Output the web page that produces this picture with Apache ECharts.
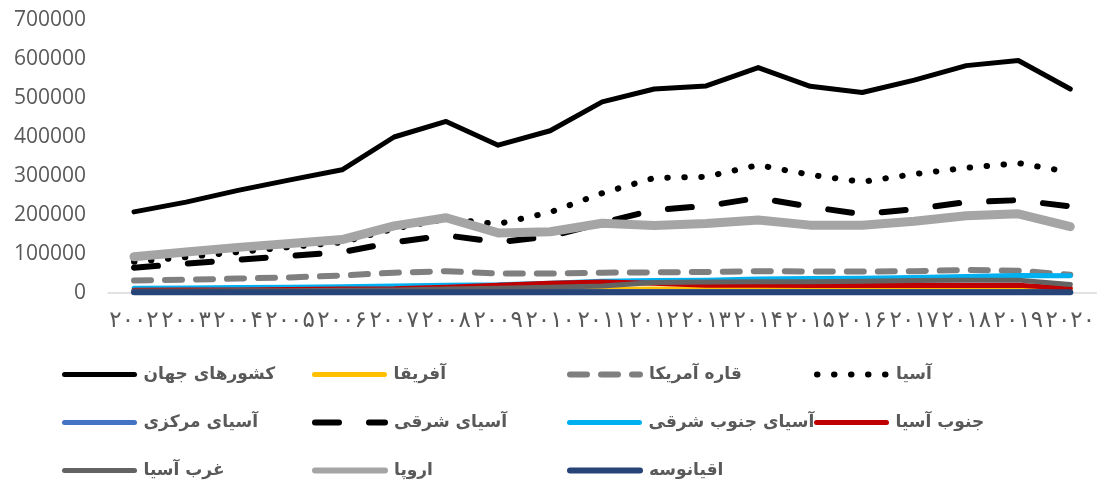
<!DOCTYPE html>
<html>
<head>
<meta charset="utf-8">
<script src="https://cdn.jsdelivr.net/npm/echarts@6/dist/echarts.min.js"></script>
<style>
  html, body { margin: 0; padding: 0; background: #fff; }
  #chart { width: 1098px; height: 490px; }
</style>
</head>
<body>
<div id="chart"></div>
<script>
// سال‌ها (برچسب محور افقی)
const years = ['۲۰۰۲', '۲۰۰۳', '۲۰۰۴', '۲۰۰۵', '۲۰۰۶', '۲۰۰۷', '۲۰۰۸', '۲۰۰۹', '۲۰۱۰', '۲۰۱۱',
    '۲۰۱۲', '۲۰۱۳', '۲۰۱۴', '۲۰۱۵', '۲۰۱۶', '۲۰۱۷', '۲۰۱۸', '۲۰۱۹', '۲۰۲۰']

const world = [208000, 233000, 263000, 290000, 316000, 400000, 440000, 379000, 416000, 490000,
    523000, 531000, 578000, 530000, 514000, 546000, 583000, 596000, 523000]
const africa = [5000, 5000, 6000, 6000, 7000, 7000, 8000, 8000, 9000, 9000,
    10000, 10000, 10000, 10000, 10000, 11000, 11000, 11000, 9000]
const americas = [32000, 34000, 37000, 40000, 45000, 52000, 56000, 50000, 50000, 52000,
    53000, 54000, 56000, 55000, 55000, 56000, 59000, 57000, 47000]
const asia = [80000, 92000, 105000, 118000, 130000, 165000, 190000, 177000, 207000, 256000,
    295000, 298000, 328000, 303000, 285000, 305000, 321000, 333000, 310000]
const centralAsia = [2000, 2000, 2000, 2000, 2000, 3000, 3000, 3000, 3000, 3000,
    3000, 3000, 3000, 3000, 3000, 3000, 3000, 3000, 3000]
const eastAsia = [65000, 75000, 85000, 95000, 105000, 130000, 148000, 130000, 145000, 180000,
    213000, 223000, 244000, 221000, 202000, 215000, 233000, 238000, 222000]
const southEastAsia = [12000, 13000, 14000, 15000, 16000, 18000, 20000, 21000, 25000, 30000,
    32000, 33000, 36000, 37000, 38000, 40000, 42000, 45000, 44000]
const southAsia = [7000, 7500, 8000, 9000, 10000, 11000, 15000, 20000, 25000, 28000,
    25000, 20000, 20000, 19000, 19000, 19000, 19000, 20000, 12000]
const westAsia = [5000, 5000, 6000, 6000, 7000, 8000, 10000, 12000, 15000, 18000,
    27000, 28000, 29000, 29000, 30000, 32000, 33000, 33000, 22000]
const europe = [93000, 105000, 117000, 127000, 137000, 172000, 193000, 154000, 157000, 179000,
    173000, 178000, 187000, 174000, 174000, 184000, 198000, 203000, 170000]
const oceania = [2000, 2000, 2000, 2000, 2000, 2000, 2000, 2000, 2000, 2000,
    2000, 2000, 2000, 2000, 2000, 2000, 2000, 2000, 2000]

const yTicks = { min: 0, max: 700000, step: 100000 }

// جای هر آیتم راهنما: ستون و ردیف
const legendCols = [62, 312, 567, 814]
const legendRows = [377, 425, 473]

function line(name, data, color, width, dash) {
    return {
        name: name,
        type: 'line',
        data: data,
        symbol: 'none',
        showSymbol: false,
        lineStyle: {
            color: color,
            width: width,
            type: dash || 'solid',
            cap: 'round',
            join: 'round'
        },
        itemStyle: { color: color },
        emphasis: { disabled: true }
    }
}

const seriesList = [
    line('کشورهای جهان', world, '#000000', 5),
    line('آفریقا', africa, '#FFC000', 5),
    line('قاره آمریکا', americas, '#7F7F7F', 6, [17, 14]),
    line('آسیا', asia, '#000000', 6, [0.5, 16.5]),
    line('آسیای مرکزی', centralAsia, '#4472C4', 5),
    line('آسیای شرقی', eastAsia, '#000000', 6, [24, 30]),
    line('آسیای جنوب شرقی', southEastAsia, '#00B0F0', 5),
    line('جنوب آسیا', southAsia, '#C00000', 5),
    line('غرب آسیا', westAsia, '#636363', 5),
    line('اروپا', europe, '#A5A5A5', 9),
    line('اقیانوسه', oceania, '#264478', 6)
]

let myChart = echarts.init(document.querySelector('#chart'))

// هر آیتم راهنما یک legend جدا، تا ستون‌ها ثابت بمانند
const legends = seriesList.map(function (s, i) {
    return {
        left: legendCols[i % 4],
        top: legendRows[Math.floor(i / 4)] - 11,
        padding: 0,
        itemWidth: 70,
        itemHeight: 14,
        itemGap: 7,
        selectedMode: false,
        itemStyle: { color: 'transparent', borderWidth: 0 },
        lineStyle: { width: Math.min(s.lineStyle.width, 6), cap: 'round' },
        textStyle: {
            color: '#595959',
            fontSize: 17,
            fontWeight: 'bold',
            fontFamily: 'DejaVu Sans',
            padding: [4, 0, 0, 4]
        },
        data: [s.name]
    }
})

const option = {
    animation: false,
    grid: { left: 108, right: 1, top: 20, bottom: 197 },
    legend: legends,
    xAxis: {
        type: 'category',
        data: years,
        boundaryGap: true,
        axisLine: { lineStyle: { color: '#D9D9D9', width: 1.5 } },
        axisTick: { show: false },
        axisLabel: {
            interval: 0,
            color: '#595959',
            fontSize: 23,
            fontFamily: 'DejaVu Sans',
            margin: 17
        }
    },
    yAxis: {
        type: 'value',
        min: yTicks.min,
        max: yTicks.max,
        interval: yTicks.step,
        splitLine: { show: false },
        axisLine: { show: false },
        axisTick: { show: false },
        axisLabel: {
            color: '#595959',
            fontSize: 21,
            fontFamily: 'Open Sans',
            margin: 22,
            formatter: function (v) { return String(v) }
        }
    },
    series: seriesList
}

myChart.setOption(option)
</script>
</body>
</html>
